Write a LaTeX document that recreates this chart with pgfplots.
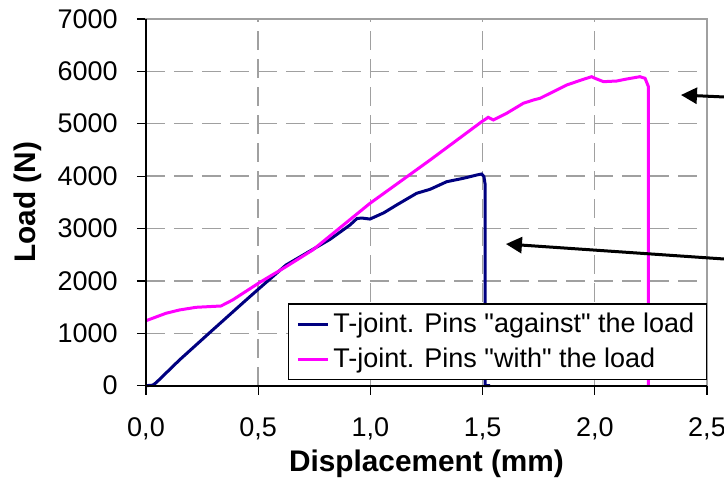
\documentclass[border=0pt]{standalone}
\usepackage{pgfplots}
\pgfplotsset{compat=1.18}
\usepackage{fontspec}
\setmainfont{Liberation Sans}
\newfontfamily\plainfont{Liberation Sans}[Ligatures=TeXOff]
\usetikzlibrary{arrows.meta}
\definecolor{navyblue}{RGB}{0,0,128}
\definecolor{magentac}{RGB}{255,0,255}
\definecolor{gridgray}{RGB}{160,160,160}
\newcommand{\q}{{\plainfont"}}
\begin{document}
\begin{tikzpicture}
\begin{axis}[
  scale only axis,
  width=280.5pt, height=183.4pt,
  xmin=0, xmax=2.5, ymin=0, ymax=7000,
  xtick={0,0.5,1,1.5,2,2.5},
  ytick={0,1000,2000,3000,4000,5000,6000,7000},
  scaled y ticks=false,
  scaled x ticks=false,
  clip=false,
  tick pos=left,
  tick align=outside,
  major tick length=4.5pt,
  every tick/.style={black, line width=0.6pt},
  axis line style={gridgray, line width=0.7pt},
  grid=major,
  major grid style={gridgray, line width=0.7pt, dash pattern=on 9.5pt off 4.5pt},
  /pgf/number format/assume math mode=true,
  x tick label style={/pgf/number format/use comma, /pgf/number format/fixed, /pgf/number format/fixed zerofill, /pgf/number format/precision=1},
  y tick label style={/pgf/number format/set thousands separator={}, /pgf/number format/fixed},
  tick label style={font=\fontsize{13.5}{16}\selectfont},
  xticklabel style={inner sep=0pt, anchor=north, yshift=-11.5pt},
  yticklabel style={inner sep=0pt, anchor=east, xshift=-9.5pt},
  xlabel={Displacement (mm)},
  ylabel={Load (N)},
  label style={font=\fontsize{14.9}{17}\selectfont\bfseries},
  xlabel style={at={(axis description cs:0.5,-0.2345)}, anchor=base},
  ylabel style={at={(axis description cs:-0.2103,0.5)}, anchor=center},
  legend cell align=left,
  legend style={at={(rel axis cs:1,0.0155)}, anchor=south east, draw=black, line width=0.7pt, fill=white,
    font=\fontsize{13.5}{16}\selectfont, inner xsep=4pt, inner ysep=2.5pt, row sep=2pt},
  legend image code/.code={\draw[#1] (0pt,0pt) -- (15pt,0pt);},
]
\addplot[navyblue, line width=1.5pt] coordinates {
(0,0) (0.03,10) (0.045,57) (0.149,490) (0.297,1063) (0.446,1635) (0.505,1858) (0.624,2303)
(0.82,2793) (0.909,3067) (0.94,3190) (0.961,3200) (0.998,3180) (1.06,3300) (1.117,3449) (1.206,3672) (1.266,3748)
(1.340,3893) (1.414,3958) (1.474,4021) (1.496,4040) (1.506,3990) (1.511,3850) (1.511,0) (1.533,0)
};
\addlegendentry{T-joint. Pins \q against\q{} the load}
\addplot[magentac, line width=1.5pt] coordinates {
(0,1240) (0.089,1382) (0.149,1445) (0.223,1496) (0.334,1521) (0.386,1636) (0.505,1966)
(0.624,2271) (0.743,2590) (0.998,3480) (1.132,3893) (1.266,4307) (1.496,5038)
(1.525,5122) (1.548,5071) (1.607,5198) (1.681,5389) (1.726,5452) (1.756,5485) (1.875,5739)
(1.949,5847) (1.986,5897) (2.001,5866) (2.039,5802) (2.098,5815) (2.142,5853) (2.201,5897)
(2.224,5866) (2.239,5706) (2.239,0)
};
\addlegendentry{T-joint. Pins \q with\q{} the load}
\draw[black, line width=0.9pt] (rel axis cs:0,1) -- (rel axis cs:0,0) -- (rel axis cs:1,0);
\draw[black, line width=1.5pt, -{Triangle[length=8pt,width=8pt]}] (axis cs:2.576,5510) -- (axis cs:2.384,5548);
\draw[black, line width=1.5pt, -{Triangle[length=8pt,width=8pt]}] (axis cs:2.576,2418) -- (axis cs:1.604,2704);
\coordinate (O) at (rel axis cs:0,0);
\end{axis}
\pgfresetboundingbox
\path (O) ++(-73pt,-47.65pt) rectangle ++(362pt,240.5pt);
\end{tikzpicture}
\end{document}
